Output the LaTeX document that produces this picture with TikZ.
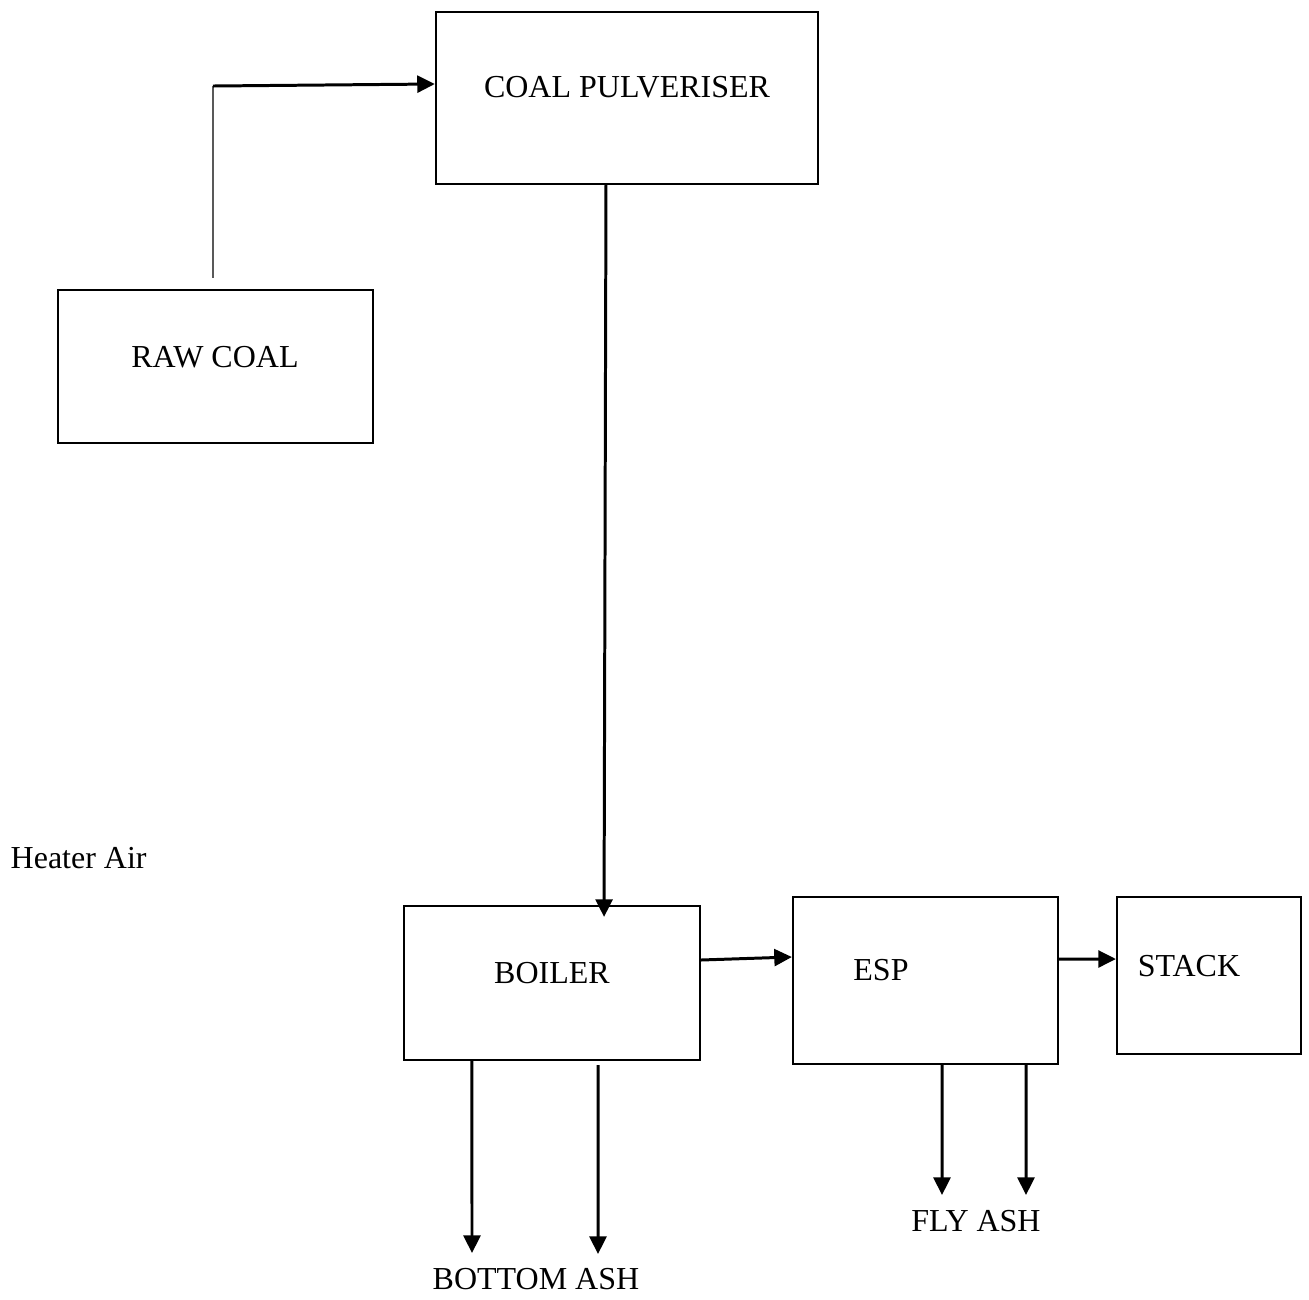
\documentclass[tikz,border=0pt]{standalone}
\usepackage{fontspec}
\setmainfont{Liberation Serif}
\usetikzlibrary{arrows.meta}
\begin{document}
\begin{tikzpicture}[x=0.01cm, y=-0.01cm, font=\fontsize{9.1}{11}\selectfont,
        block/.style={draw, line width=0.6pt, inner sep=0pt},
        flow/.style={-{Triangle[length=5pt, width=4.8pt]}, line width=0.85pt}]
        \useasboundingbox (0,0) rectangle (1309,1299);
        % Boxes
        \node[block, minimum width=3.82cm, minimum height=1.72cm] (pulveriser) at (627,98) {};
        \node[block, minimum width=3.15cm, minimum height=1.53cm] (rawcoal) at (215.5,366.5) {};
        \node[block, minimum width=2.96cm, minimum height=1.54cm] (boiler) at (552,983) {};
        \node[block, minimum width=2.65cm, minimum height=1.67cm] (esp) at (925.5,980.5) {};
        \node[block, minimum width=1.84cm, minimum height=1.57cm] (stack) at (1209,975.5) {};

        % Texts
        \node (tpulveriser) at (627,87) {COAL PULVERISER};
        \node (trawcoal) at (215,357) {RAW COAL};
        \node (tboiler) at (552,973) {BOILER};
        \node (tesp) at (881,970) {ESP};
        \node (tstack) at (1189,966) {STACK};
        \node[anchor=west, inner sep=0pt] (heater) at (10,858) {Heater Air};
        \node (bottomash) at (536,1279) {BOTTOM ASH};
        \node (flyash) at (976,1221) {FLY ASH};

        % Free ends
        \coordinate (feed) at (213,86);
        \coordinate (bash1) at (472,1253);
        \coordinate (bash2) at (598,1254);
        \coordinate (fash1) at (942,1195);
        \coordinate (fash2) at (1026,1195);

        % Arrows
        \draw[line width=0.4pt] ([xshift=-0.025cm, yshift=0.11cm]rawcoal.north) -- (feed);
        \draw[flow] (feed) -- ([yshift=0.14cm]pulveriser.west);
        \draw[flow] ([xshift=-0.21cm]pulveriser.south) -- ([xshift=0.52cm, yshift=-0.12cm]boiler.north);
        \draw[flow] ([yshift=0.23cm]boiler.east) -- ([yshift=0.235cm]esp.west);
        \draw[flow] ([yshift=0.215cm]esp.east) -- ([yshift=0.165cm]stack.west);
        \draw[flow] ([xshift=-0.8cm]boiler.south) -- (bash1);
        \draw[flow] ([xshift=0.46cm, yshift=-0.04cm]boiler.south) -- (bash2);
        \draw[flow] ([xshift=0.165cm]esp.south) -- (fash1);
        \draw[flow] ([xshift=1.005cm]esp.south) -- (fash2);
    \end{tikzpicture}
\end{document}
